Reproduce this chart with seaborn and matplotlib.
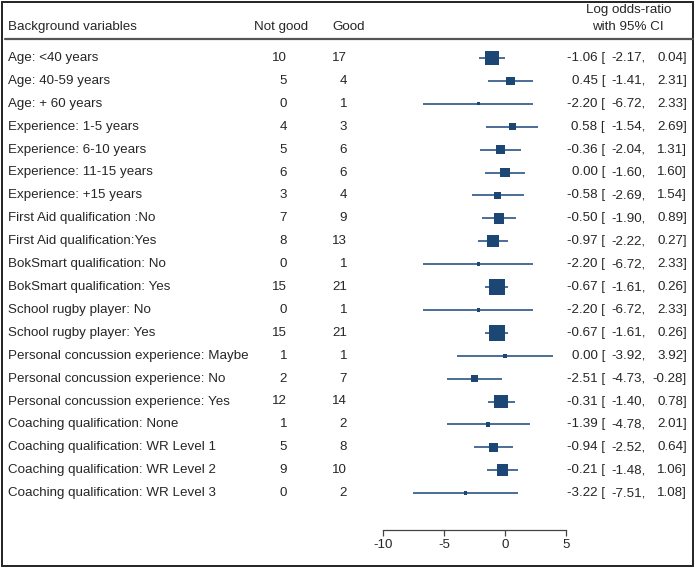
import numpy as np
import pandas as pd
import matplotlib
matplotlib.use("Agg")
import matplotlib.pyplot as plt
import matplotlib.transforms as mtransforms
from matplotlib.patches import Rectangle
from matplotlib.lines import Line2D
import seaborn as sns

labels = [
    "Age: <40 years", "Age: 40-59 years", "Age: + 60 years",
    "Experience: 1-5 years", "Experience: 6-10 years", "Experience: 11-15 years",
    "Experience: +15 years", "First Aid qualification :No", "First Aid qualification:Yes",
    "BokSmart qualification: No", "BokSmart qualification: Yes",
    "School rugby player: No", "School rugby player: Yes",
    "Personal concussion experience: Maybe", "Personal concussion experience: No",
    "Personal concussion experience: Yes", "Coaching qualification: None",
    "Coaching qualification: WR Level 1", "Coaching qualification: WR Level 2",
    "Coaching qualification: WR Level 3",
]
not_good = [10, 5, 0, 4, 5, 6, 3, 7, 8, 0, 15, 0, 15, 1, 2, 12, 1, 5, 9, 0]
good = [17, 4, 1, 3, 6, 6, 4, 9, 13, 1, 21, 1, 21, 1, 7, 14, 2, 8, 10, 2]
est = [-1.06, 0.45, -2.20, 0.58, -0.36, 0.00, -0.58, -0.50, -0.97, -2.20,
       -0.67, -2.20, -0.67, 0.00, -2.51, -0.31, -1.39, -0.94, -0.21, -3.22]
lo = [-2.17, -1.41, -6.72, -1.54, -2.04, -1.60, -2.69, -1.90, -2.22, -6.72,
      -1.61, -6.72, -1.61, -3.92, -4.73, -1.40, -4.78, -2.52, -1.48, -7.51]
hi = [0.04, 2.31, 2.33, 2.69, 1.31, 1.60, 1.54, 0.89, 0.27, 2.33,
      0.26, 2.33, 0.26, 3.92, -0.28, 0.78, 2.01, 0.64, 1.06, 1.08]
xticks = [-10, -5, 0, 5]

df = pd.DataFrame({"label": labels, "ng": not_good, "g": good,
                   "est": est, "lo": lo, "hi": hi})
df["row"] = np.arange(len(df))
se = (df["hi"] - df["lo"]) / 3.92
df["w"] = 1.0 / se**2

sns.set_style("white")
plt.rcParams["font.family"] = ["Liberation Sans", "DejaVu Sans"]
FS = 9.6
W, H = 695, 568
fig = plt.figure(figsize=(W / 100, H / 100), dpi=100)

def fx(px):
    return px / W

def fy(py):
    return 1 - py / H

row0, dy = 58.0, 22.9
ax_top, ax_bot = 40.0, 529.5
ax = fig.add_axes([fx(383), fy(ax_bot), fx(566) - fx(383), fy(ax_top) - fy(ax_bot)])
ax.set_xlim(-10, 5)
ax.set_ylim((ax_bot - row0) / dy, (ax_top - row0) / dy)

navy = "#1c4775"
ax.hlines(df["row"], df["lo"], df["hi"], color="#2a5585", lw=1.2, zorder=2)
kmax = 132.0 / df["w"].max()
sns.scatterplot(data=df, x="est", y="row", ax=ax, marker="s", color=navy,
                s=(df["w"] * kmax).values, linewidth=0, legend=False, zorder=3)

for s in ["top", "right", "left"]:
    ax.spines[s].set_visible(False)
ax.spines["bottom"].set_bounds(-10, 5)
ax.spines["bottom"].set_color("#444444")
ax.spines["bottom"].set_linewidth(0.9)
ax.set_xticks(xticks)
ax.set_xticklabels([str(t) for t in xticks], fontsize=FS)
ax.tick_params(axis="x", bottom=True, direction="out", length=4, width=0.9,
               color="#444444", pad=3)
ax.set_yticks([])
ax.set_xlabel("")
ax.set_ylabel("")
ax.patch.set_alpha(0)

trans = mtransforms.blended_transform_factory(fig.transFigure, ax.transData)
for i, r in df.iterrows():
    y = r["row"]
    ax.text(fx(8), y, r["label"], transform=trans, ha="left", va="center", fontsize=FS)
    ax.text(fx(287), y, str(int(r["ng"])), transform=trans, ha="right", va="center", fontsize=FS)
    ax.text(fx(347), y, str(int(r["g"])), transform=trans, ha="right", va="center", fontsize=FS)
    ax.text(fx(605), y, f"{r['est']:.2f} [", transform=trans, ha="right", va="center", fontsize=FS)
    ax.text(fx(646), y, f"{r['lo']:.2f},", transform=trans, ha="right", va="center", fontsize=FS)
    ax.text(fx(687), y, f"{r['hi']:.2f}]", transform=trans, ha="right", va="center", fontsize=FS)

# headers
fig.text(fx(8), fy(27), "Background variables", ha="left", va="center", fontsize=FS)
fig.text(fx(254), fy(27), "Not good", ha="left", va="center", fontsize=FS)
fig.text(fx(332), fy(27), "Good", ha="left", va="center", fontsize=FS)
fig.text(fx(629), fy(9.5), "Log odds-ratio", ha="center", va="center", fontsize=FS)
fig.text(fx(628), fy(27.5), "with 95% CI", ha="center", va="center", fontsize=FS)

fig.add_artist(Line2D([fx(5), fx(693)], [fy(38.5), fy(38.5)], color="#555555", lw=1.6,
                      transform=fig.transFigure))
fig.add_artist(Rectangle((fx(2), fy(566)), fx(691), fy(2) - fy(566), fill=False,
                         edgecolor="#222222", lw=1.4, transform=fig.transFigure))

fig.savefig("out.png", dpi=100)
